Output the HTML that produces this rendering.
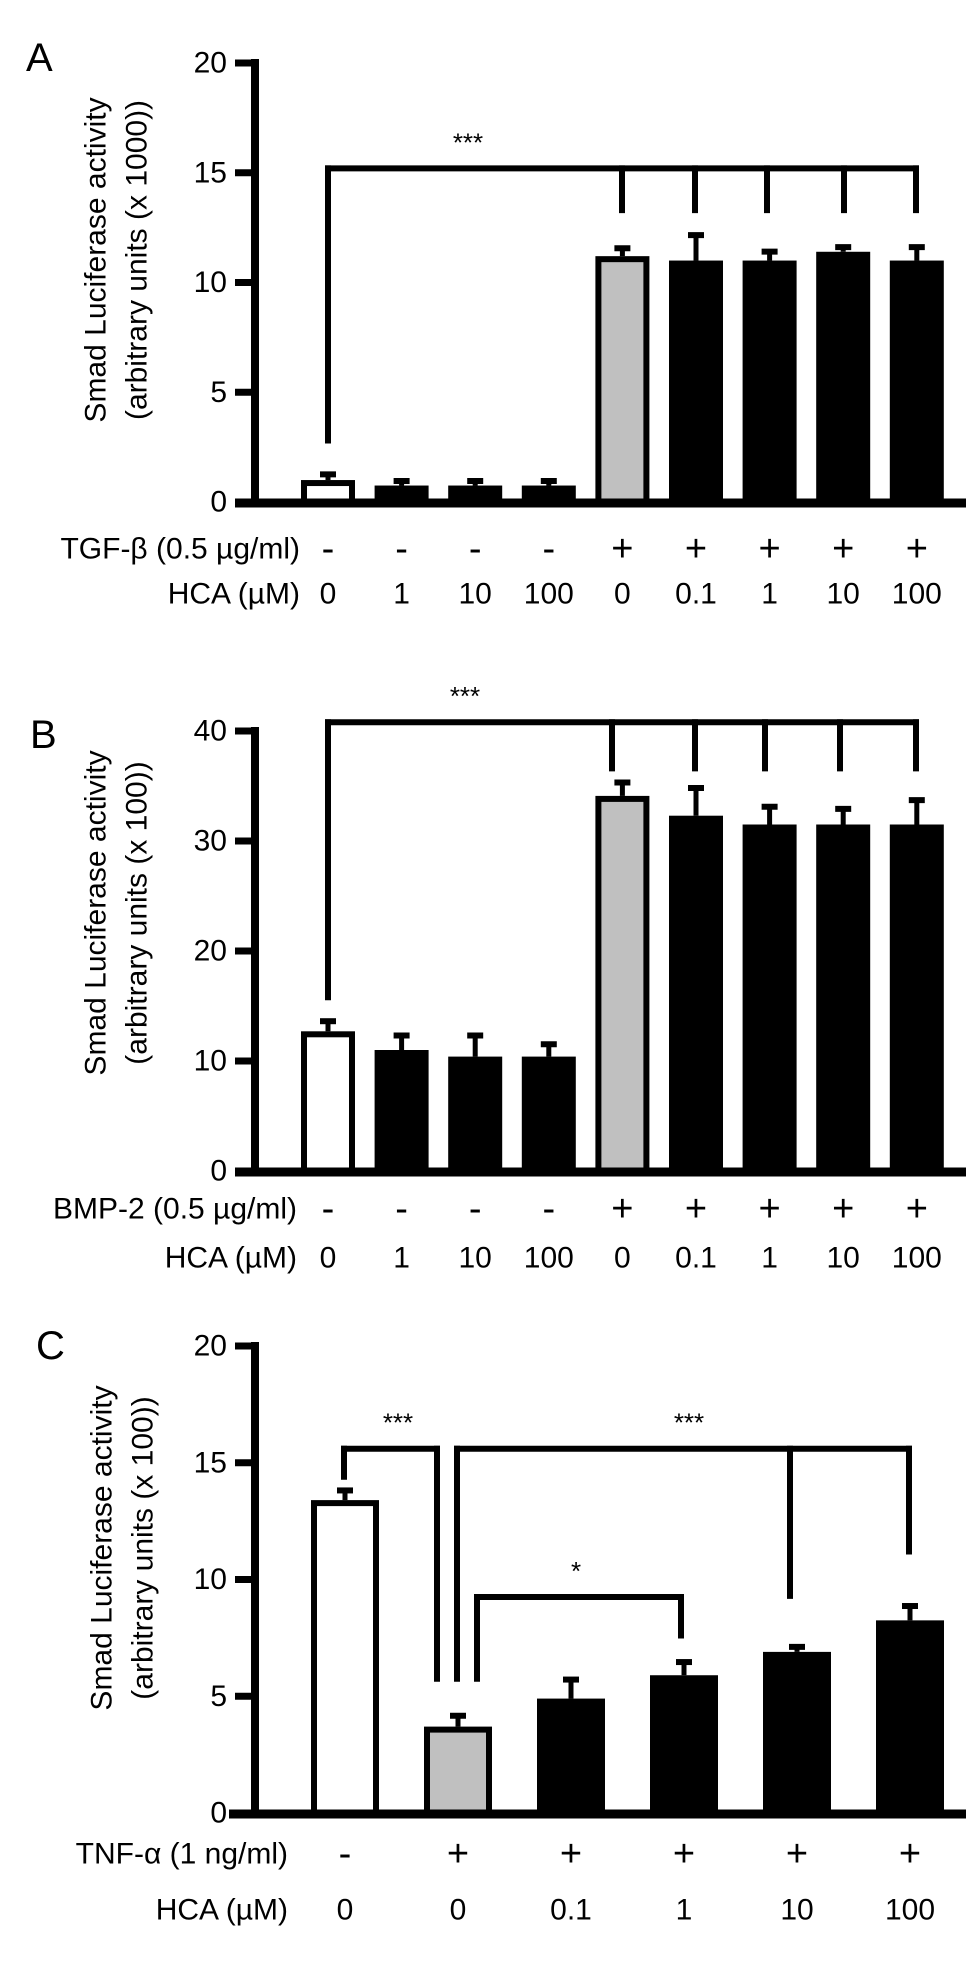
<!DOCTYPE html>
<html><head><meta charset="utf-8"><style>
html,body{margin:0;padding:0;background:#fff;}
svg{display:block;font-family:"Liberation Sans",Arial,sans-serif;}
</style></head><body>
<svg id="fig" width="980" height="1967" viewBox="0 0 980 1967" xmlns="http://www.w3.org/2000/svg"></svg>
<script>
// Panel A data
const aTreat = ["-","-","-","-","+","+","+","+","+"];
const aHca = ["0","1","10","100","0","0.1","1","10","100"];
const aValues = [1.0,0.75,0.75,0.75,11.2,11.0,11.0,11.4,11.0];
const aErrors = [0.35,0.3,0.3,0.3,0.45,1.25,0.5,0.3,0.7];
const aTicks = [0,5,10,15,20];
// Panel B data
const bTreat = ["-","-","-","-","+","+","+","+","+"];
const bHca = ["0","1","10","100","0","0.1","1","10","100"];
const bValues = [12.7,11.0,10.4,10.4,34.1,32.3,31.5,31.5,31.5];
const bErrors = [1.1,1.5,2.1,1.3,1.4,2.7,1.8,1.6,2.4];
const bTicks = [0,10,20,30,40];
// Panel C data
const cTreat = ["-","+","+","+","+","+"];
const cHca = ["0","0","0.1","1","10","100"];
const cValues = [13.4,3.7,4.9,5.9,6.9,8.25];
const cErrors = [0.5,0.55,0.9,0.65,0.3,0.7];
const cTicks = [0,5,10,15,20];

const NS="http://www.w3.org/2000/svg";
const svg=document.getElementById('fig');
function mk(tag,attrs,parent){const e=document.createElementNS(NS,tag);for(const k in attrs)e.setAttribute(k,attrs[k]);(parent||svg).appendChild(e);return e;}
function txt(s,x,y,size,anchor,parent){const t=mk('text',{x:x,y:y,'font-size':size,'text-anchor':anchor||'middle','dominant-baseline':'central',fill:'#000'},parent);t.textContent=s;return t;}

function panel(cfg){
  const g=mk('g',{});
  
  
  const yMax=cfg.ticks[cfg.ticks.length-1];
  const y=v=>cfg.y0-(v/yMax)*(cfg.y0-cfg.yTop);
  const n=cfg.values.length;
  const x=i=>cfg.x0+i*cfg.step;
  const L=txt(cfg.letter,cfg.letterX,cfg.letterY,40,'start',g);
  
  
  const ax=mk('line',{x1:cfg.axisX,y1:cfg.yTop-4,x2:cfg.axisX,y2:cfg.y0+4,stroke:'#000','stroke-width':8},g);
  
  
  cfg.ticks.forEach(t=>{
    mk('line',{x1:cfg.axisX-20,y1:y(t),x2:cfg.axisX,y2:y(t),stroke:'#000','stroke-width':7},g);
    const tl=txt(String(t),cfg.axisX-28,y(t),30,'end',g);
    
    
  });
  const tg=mk('g',{transform:'translate('+cfg.titleX+','+cfg.titleY+') rotate(-90)'},g);
  
  
  txt('Smad Luciferase activity',0,0,30,'middle',tg);
  txt('(arbitrary units (x '+cfg.unit+'))',0,41,30,'middle',tg);
  for(let i=0;i<n;i++){
    const cx=x(i),w=cfg.barW,top=y(cfg.values[i]),et=y(cfg.values[i]+cfg.errors[i]);
    const fill=i===0?'#fff':(i===cfg.gray?'#c0c0c0':'#000');
    mk('line',{x1:cx,y1:top,x2:cx,y2:et,stroke:'#000','stroke-width':5},g);
    mk('line',{x1:cx-8,y1:et+2,x2:cx+8,y2:et+2,stroke:'#000','stroke-width':6},g);
    const b=mk('rect',{x:cx-w/2+3,y:top+3,width:w-6,height:Math.max(cfg.y0-top-3,0),fill:fill,stroke:'#000','stroke-width':6},g);
    
    
    const s=txt(cfg.treat[i],cx,cfg.row1,38,'middle',g);
    
    
    const h=txt(cfg.hca[i],cx,cfg.row2,30,'middle',g);
    
    
  }
  const xa=mk('line',{x1:cfg.xAxisStart,y1:cfg.y0+1,x2:966,y2:cfg.y0+1,stroke:'#000','stroke-width':9},g);
  
  
  const r1=txt(cfg.rowLabel1,cfg.rowLabelX,cfg.row1,30,'end',g);
  
  
  const r2=txt('HCA (µM)',cfg.rowLabelX,cfg.row2,30,'end',g);
  
  
  cfg.brackets.forEach(br=>{
    const bg=mk('g',{},g);
    
    
    const yt=y(br.top);
    mk('line',{x1:br.x1,y1:yt,x2:br.x2,y2:yt,stroke:'#000','stroke-width':6,'stroke-linecap':'square'},bg);
    br.drops.forEach(d=>mk('line',{x1:d[0],y1:yt,x2:d[0],y2:y(d[1]),stroke:'#000','stroke-width':6,'stroke-linecap':'square'},bg));
    txt(br.label,br.lx,yt-26,26,'middle',bg);
  });
}

panel({id:'a',letter:'A',letterX:26,letterY:58,axisX:255,yTop:63,y0:502,ticks:aTicks,values:aValues,errors:aErrors,treat:aTreat,hca:aHca,
  x0:328,step:73.6,barW:54,gray:4,unit:'1000',titleX:96,titleY:260,row1:549,row2:594,rowLabel1:'TGF-β (0.5 µg/ml)',rowLabelX:300,xAxisStart:235,
  brackets:[{top:15.2,x1:328,x2:916,label:'***',lx:468,drops:[[328,2.8],[622,13.3],[695,13.3],[767,13.3],[844,13.3],[916,13.3]]}]});

panel({id:'b',letter:'B',letterX:30,letterY:735,axisX:255,yTop:731,y0:1171,ticks:bTicks,values:bValues,errors:bErrors,treat:bTreat,hca:bHca,
  x0:328,step:73.6,barW:54,gray:4,unit:'100',titleX:96,titleY:913,row1:1209,row2:1258,rowLabel1:'BMP-2 (0.5 µg/ml)',rowLabelX:297,xAxisStart:235,
  brackets:[{top:40.8,x1:328,x2:916,label:'***',lx:465,drops:[[328,15.8],[612,36.6],[695,36.6],[765,36.6],[840,36.6],[916,36.6]]}]});

panel({id:'c',letter:'C',letterX:36,letterY:1346,axisX:255,yTop:1346,y0:1813,ticks:cTicks,values:cValues,errors:cErrors,treat:cTreat,hca:cHca,
  x0:345,step:113,barW:68,gray:1,unit:'100',titleX:102,titleY:1548,row1:1854,row2:1910,rowLabel1:'TNF-α (1 ng/ml)',rowLabelX:288,xAxisStart:229,
  brackets:[
    {top:15.6,x1:344,x2:437,label:'***',lx:398,drops:[[344,14.4],[437,5.75]]},
    {top:15.6,x1:457,x2:909,label:'***',lx:689,drops:[[457,5.75],[790,9.3],[909,11.2]]},
    {top:9.25,x1:477,x2:681,label:'*',lx:576,drops:[[477,5.75],[681,7.6]]}
  ]});
</script>
</body></html>
